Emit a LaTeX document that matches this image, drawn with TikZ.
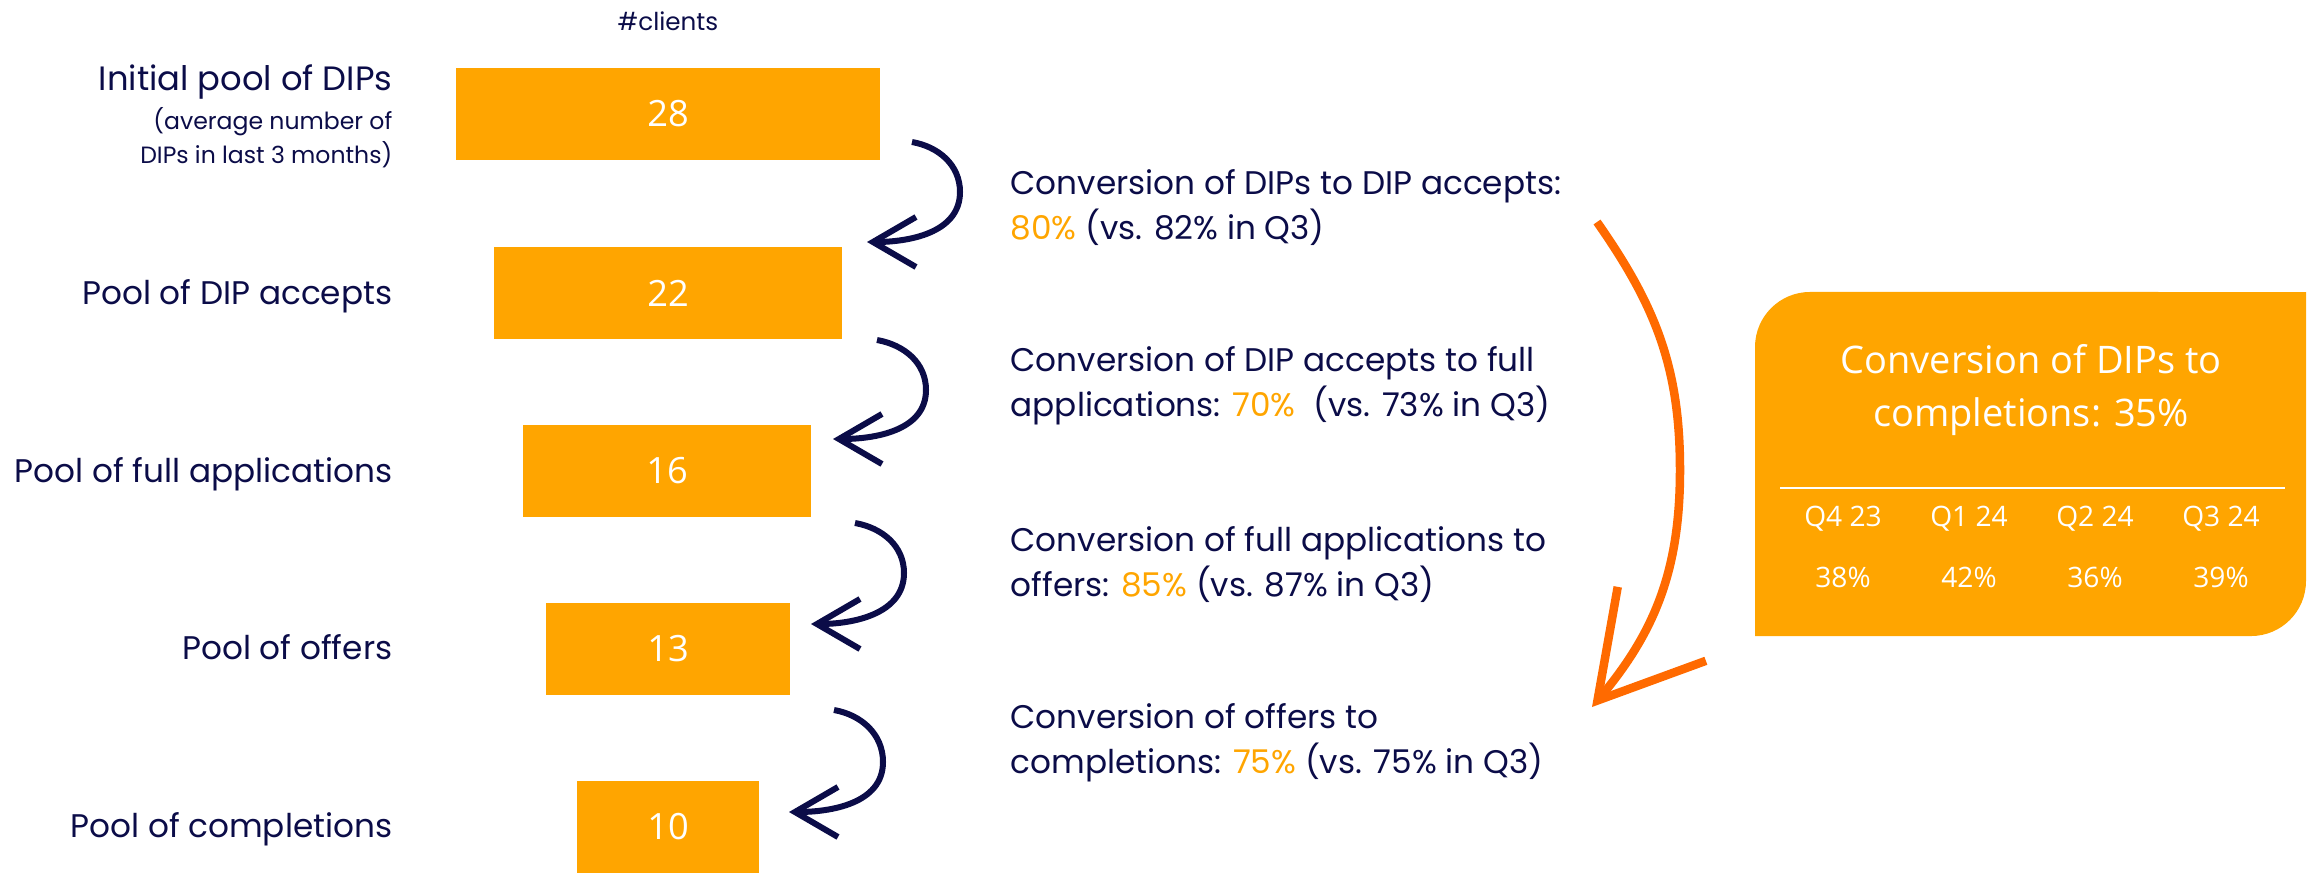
\documentclass[tikz,border=0pt]{standalone}
\usepackage{fontspec}
\setmainfont{Poppins}
\newfontfamily\cardfont{Open Sans}
\usetikzlibrary{arrows.meta}
\definecolor{navy}{HTML}{0B0C48}
\definecolor{barorange}{HTML}{FFA500}
\definecolor{arroworange}{HTML}{FF6A00}
\newcommand{\pcto}[1]{\textcolor{barorange}{#1}}

\begin{document}
\begin{tikzpicture}[x=0.01cm, y=-0.01cm,
    bar/.style={fill=barorange, inner sep=0pt, minimum height=0.91cm, text=white,
      font=\cardfont\fontsize{10.3}{12}\selectfont},
    pool/.style={anchor=mid east, inner sep=0pt, text=navy, font=\fontsize{9.3}{12}\selectfont},
    conv/.style={anchor=west, align=left, inner sep=0pt, text=navy, font=\fontsize{9.3}{12.8}\selectfont},
    curl/.style={draw=navy, line width=0.06cm, -{Straight Barb[length=4.3mm, width=5mm]}},
    bigcurl/.style={draw=arroworange, line width=0.085cm, -{Straight Barb[length=10mm, width=11.5mm]}},
    cardsmall/.style={inner sep=0pt, text=white, font=\cardfont\fontsize{8}{10}\selectfont}]
  \useasboundingbox (0,0) rectangle (2311,872);

  % funnel bars
  \node[inner sep=0pt, text=navy, font=\fontsize{7}{8}\selectfont] (clients) at (668,21) {\#clients};
  \node[bar, minimum width=4.23cm] (b1) at (668,114) {28};
  \node[bar, minimum width=3.48cm] (b2) at (668,293) {22};
  \node[bar, minimum width=2.88cm] (b3) at (667,471) {16};
  \node[bar, minimum width=2.43cm] (b4) at (668,649) {13};
  \node[bar, minimum width=1.81cm] (b5) at (668,827) {10};

  % pool labels
  \node[pool, font=\fontsize{9.6}{12}\selectfont] (l1) at (393,81) {Initial pool of DIPs};
  \node[pool, font=\fontsize{6.7}{8}\selectfont] (l1a) at (393,120) {(average number of};
  \node[pool, font=\fontsize{6.7}{8}\selectfont] (l1b) at (393,154) {DIPs in last 3 months)};
  \node[pool] (l2) at (393,295) {Pool of DIP accepts};
  \node[pool] (l3) at (393,473) {Pool of full applications};
  \node[pool] (l4) at (393,650) {Pool of offers};
  \node[pool] (l5) at (393,828) {Pool of completions};

  % step conversions
  \node[conv] (c1) at (1010,208) {Conversion of DIPs to DIP accepts:\\\pcto{80\%} (vs. 82\% in Q3)};
  \node[conv] (c2) at (1010,386) {Conversion of DIP accepts to full\\applications: \pcto{70\%}\ \ (vs. 73\% in Q3)};
  \node[conv] (c3) at (1010,565) {Conversion of full applications to\\offers: \pcto{85\%} (vs. 87\% in Q3)};
  \node[conv] (c4) at (1010,743) {Conversion of offers to\\completions: \pcto{75\%} (vs. 75\% in Q3)};

  % curled arrows between bars
  \coordinate (a1s) at (912,142); \coordinate (a1m) at (960,192); \coordinate (a1t) at (867,242);
  \coordinate (a2s) at (877,340); \coordinate (a2m) at (926,390); \coordinate (a2t) at (833,439);
  \coordinate (a3s) at (855,523); \coordinate (a3m) at (904,573); \coordinate (a3t) at (811,624);
  \coordinate (a4s) at (834,710); \coordinate (a4m) at (883,762); \coordinate (a4t) at (789,812);
  \foreach \i in {1,...,4}
    \draw[curl] (a\i s) to[out=-10, in=90] (a\i m) to[out=-90, in=0] (a\i t);

  % overall arrow
  \coordinate (o1) at (1597,222); \coordinate (o2) at (1680,470); \coordinate (o3) at (1592,707);
  \draw[bigcurl] (o1) to[out=-55, in=90] (o2) to[out=-90, in=50] (o3);

  % summary card
  \fill[barorange] (1755,636) -- (1755,347) arc[start angle=180, end angle=90, radius=0.55cm]
    -- (2306,292) -- (2306,581) arc[start angle=0, end angle=-90, radius=0.55cm] -- cycle;
  \node[inner sep=0pt, align=center, text=white, font=\cardfont\fontsize{10.8}{15.3}\selectfont]
    (total) at (2031,390) {Conversion of DIPs to\\completions: 35\%};
  \draw[white, line width=0.022cm] (1780,488) -- (2285,488);
  \foreach \q/\v [count=\k] in {Q4 23/38\%, Q1 24/42\%, Q2 24/36\%, Q3 24/39\%} {
    \node[cardsmall] (q\k) at (1717+126*\k,519) {\q};
    \node[cardsmall] (v\k) at (1717+126*\k,577) {\v};
  }
\end{tikzpicture}
\end{document}
